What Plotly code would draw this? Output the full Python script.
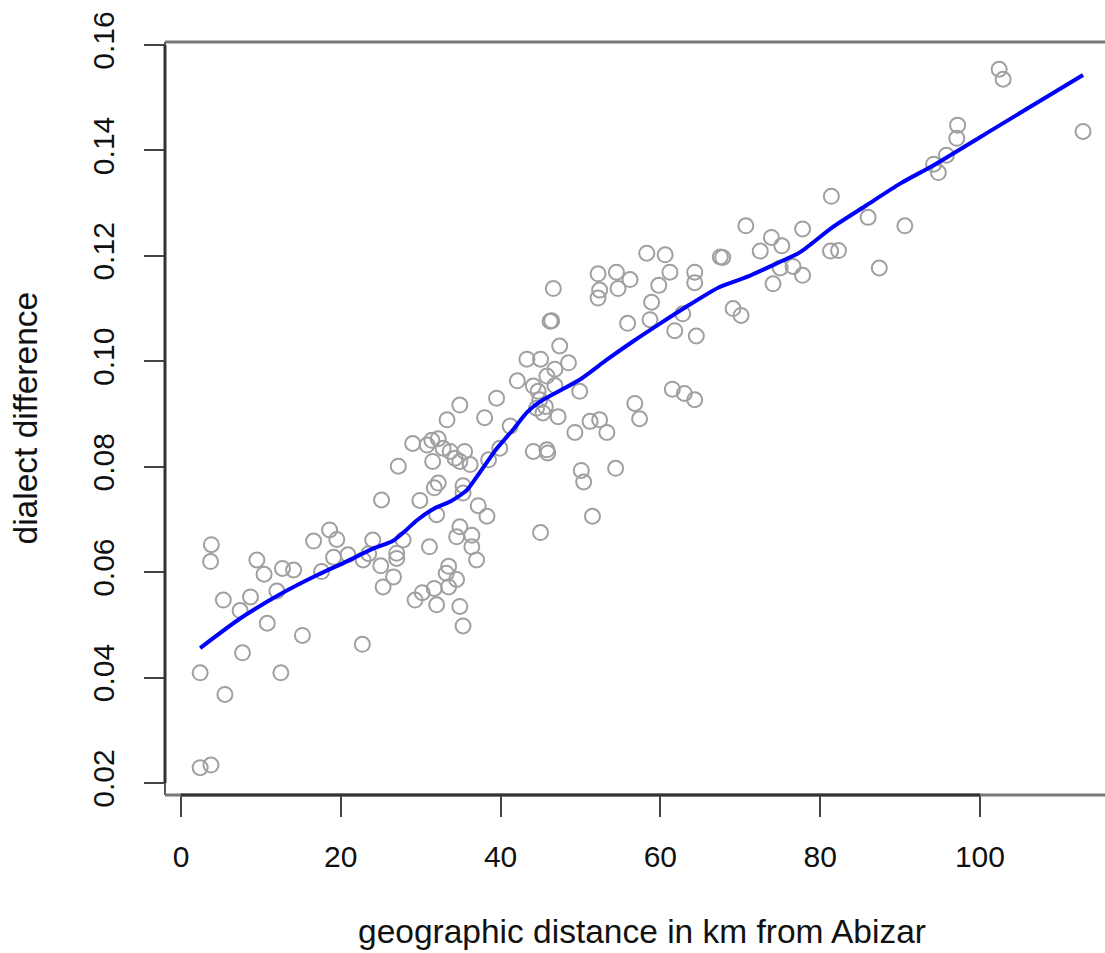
import plotly.graph_objects as go

# scatter points: geographic distance (km) and dialect difference
dist = [2.4, 3.75, 2.4, 5.5, 7.7, 3.8, 3.7, 5.3, 7.4, 8.7, 9.5, 10.4, 10.8, 12.0, 12.7, 14.1, 12.5,
        16.6, 18.6, 19.5, 19.1, 17.6, 20.9, 22.7, 15.2,
        24.0, 22.8, 23.5, 25.0, 25.3, 26.6, 27.0, 27.0, 27.8, 25.1, 27.2, 29.0,
        29.3, 30.2, 31.7, 32.0, 31.1, 29.9,
        30.8, 31.4, 32.2, 32.8, 33.7, 34.3, 35.5, 34.9, 36.2, 38.5, 39.9, 31.5, 32.2, 31.7,
        35.3, 35.3, 37.2, 38.3, 32.0, 34.9, 34.5, 36.4, 36.4, 37.0, 33.5, 33.2, 34.5, 33.5,
        34.9, 35.3, 34.9, 39.5, 33.3, 38.0, 41.2,
        46.6, 46.2, 46.4, 47.4, 43.3, 45.0, 46.8, 48.5, 45.8, 42.1, 44.1, 44.7, 46.8, 49.9,
        44.9, 45.6, 45.3, 47.2, 51.2, 52.4, 53.3, 49.3, 44.1, 45.8, 45.9, 50.1, 50.4, 54.4,
        51.5, 45.0, 44.5,
        52.2, 54.5, 56.2, 54.7, 52.4, 52.2, 58.3, 60.6, 61.2, 59.8, 58.9, 58.7, 55.9, 64.3,
        64.3, 62.8, 61.8, 64.5, 67.5, 67.8, 56.8, 57.4, 61.5, 63.0, 64.3, 69.1, 70.1,
        70.7, 73.9, 75.2, 77.8, 72.5, 75.0, 76.6, 77.8, 74.1, 81.4, 81.3, 82.3, 86.0, 87.4,
        90.6, 94.2, 94.8, 95.8, 97.1, 97.2, 102.4, 102.9, 112.9]
diff = [0.0229, 0.0234, 0.0409, 0.0368, 0.0447, 0.0652, 0.0620, 0.0547, 0.0527, 0.0553, 0.0623, 0.0596, 0.0503, 0.0564, 0.0607, 0.0604, 0.0409,
        0.0659, 0.0680, 0.0662, 0.0628, 0.0601, 0.0633, 0.0463, 0.0480,
        0.0661, 0.0623, 0.0635, 0.0612, 0.0572, 0.0591, 0.0626, 0.0636, 0.0661, 0.0737, 0.0801, 0.0844,
        0.0547, 0.0561, 0.0569, 0.0538, 0.0648, 0.0736,
        0.0841, 0.0850, 0.0853, 0.0835, 0.0829, 0.0816, 0.0829, 0.0810, 0.0804, 0.0813, 0.0835, 0.0810, 0.0769, 0.0760,
        0.0764, 0.0750, 0.0726, 0.0706, 0.0709, 0.0686, 0.0667, 0.0670, 0.0648, 0.0623, 0.0611, 0.0598, 0.0586, 0.0572,
        0.0535, 0.0498, 0.0917, 0.0930, 0.0889, 0.0893, 0.0877,
        0.1138, 0.1076, 0.1077, 0.1029, 0.1004, 0.1004, 0.0985, 0.0997, 0.0972, 0.0963, 0.0953, 0.0943, 0.0954, 0.0943,
        0.0927, 0.0914, 0.0902, 0.0895, 0.0886, 0.0889, 0.0865, 0.0865, 0.0829, 0.0832, 0.0826, 0.0793, 0.0771, 0.0797,
        0.0706, 0.0675, 0.0911,
        0.1166, 0.1169, 0.1155, 0.1138, 0.1135, 0.1120, 0.1205, 0.1202, 0.1169, 0.1144, 0.1112, 0.1079, 0.1072, 0.1169,
        0.1149, 0.1090, 0.1058, 0.1048, 0.1198, 0.1197, 0.0920, 0.0891, 0.0947, 0.0939, 0.0927, 0.1100, 0.1087,
        0.1257, 0.1235, 0.1219, 0.1251, 0.1209, 0.1177, 0.1180, 0.1163, 0.1147, 0.1313, 0.1209, 0.1210, 0.1273, 0.1177,
        0.1257, 0.1374, 0.1358, 0.1391, 0.1423, 0.1448, 0.1554, 0.1535, 0.1436]

# smoothed (loess) curve
fit_x = [2.4, 7.4, 12.4, 17.0, 20.7, 24.1, 26.5, 28.2, 29.5, 31.6, 33.7, 35.8, 37.4, 39.5, 41.6,
         43.3, 44.9, 47.0, 49.9, 53.3, 56.6, 60.0, 63.1, 67.3, 71.0, 74.6, 77.5, 81.6, 85.8,
         90.0, 94.2, 102.5, 112.9]
fit_y = [0.0456, 0.0512, 0.0558, 0.0594, 0.0620, 0.0645, 0.0659, 0.0680, 0.0698, 0.0720, 0.0734,
         0.0756, 0.0789, 0.0834, 0.0871, 0.0903, 0.0923, 0.0941, 0.0965, 0.1003, 0.1038, 0.1072,
         0.1102, 0.1140, 0.1161, 0.1186, 0.1207, 0.1255, 0.1296, 0.1337, 0.1372, 0.1448, 0.1543]

x_ticks = [0, 20, 40, 60, 80, 100]
y_ticks = [0.02, 0.04, 0.06, 0.08, 0.10, 0.12, 0.14, 0.16]

FONT = "Liberation Sans, Arial, Helvetica, sans-serif"
TICK_SIZE = 30
TITLE_SIZE = 33.5
W, H = 1105, 953
L, R, T, B = 165, 0, 42, 158

fig = go.Figure()
fig.add_trace(go.Scatter(
    x=dist, y=diff, mode="markers",
    marker=dict(symbol="circle-open", size=15, color="#a0a0a0", line=dict(width=2, color="#a0a0a0")),
    showlegend=False, hoverinfo="skip"))
fig.add_trace(go.Scatter(
    x=fit_x, y=fit_y, mode="lines", line=dict(color="#0000ff", width=4, shape="spline", smoothing=0.6),
    showlegend=False, hoverinfo="skip"))

x_range = [-2.0, 115.65]
y_range = [0.01772, 0.16057]

fig.update_layout(
    width=W, height=H,
    margin=dict(l=L, r=R, t=T, b=B),
    plot_bgcolor="white", paper_bgcolor="white",
    font=dict(family=FONT, size=TICK_SIZE, color="#111111"),
    xaxis=dict(range=x_range, tickvals=x_ticks, ticktext=[str(v) for v in x_ticks],
               ticks="outside", ticklen=21, tickwidth=2, tickcolor="#444444",
               showgrid=False, zeroline=False, showline=False,
               ticklabelstandoff=14, tickfont=dict(size=TICK_SIZE)),
    yaxis=dict(range=y_range, tickvals=y_ticks, ticktext=["%.2f" % v for v in y_ticks],
               ticks="outside", ticklen=20, tickwidth=2, tickcolor="#444444",
               showgrid=False, zeroline=False, showline=False, tickangle=-90,
               ticklabelstandoff=18, tickfont=dict(size=TICK_SIZE)),
    shapes=[
        # box (top, left, bottom)
        dict(type="line", xref="paper", yref="paper", x0=0, x1=1, y0=1, y1=1,
             line=dict(color="#777777", width=3)),
        dict(type="line", xref="paper", yref="paper", x0=0, x1=0, y0=0, y1=1,
             line=dict(color="#555555", width=2)),
        dict(type="line", xref="paper", yref="paper", x0=0, x1=1, y0=0, y1=0,
             line=dict(color="#777777", width=3)),
        # axis segments spanning the ticks
        dict(type="line", xref="x", yref="paper", x0=0, x1=100, y0=0, y1=0,
             line=dict(color="#333333", width=3)),
        dict(type="line", xref="paper", yref="y", x0=0, x1=0, y0=0.02, y1=0.16,
             line=dict(color="#333333", width=3)),
    ],
    annotations=[
        dict(text="geographic distance in km from Abizar", xref="paper", yref="paper",
             x=(642 - L) / (W - L - R), y=(795 - 931) / (H - T - B),
             xanchor="center", yanchor="middle", showarrow=False,
             font=dict(family=FONT, size=TITLE_SIZE, color="#111111")),
        dict(text="dialect difference", xref="paper", yref="paper",
             x=(25 - L) / (W - L - R), y=0.5, textangle=-90,
             xanchor="center", yanchor="middle", showarrow=False,
             font=dict(family=FONT, size=TITLE_SIZE, color="#111111")),
    ],
)

fig.write_html("out.html", config={"displayModeBar": False},
               post_script="document.body.style.margin='0';document.body.style.overflow='hidden';")
